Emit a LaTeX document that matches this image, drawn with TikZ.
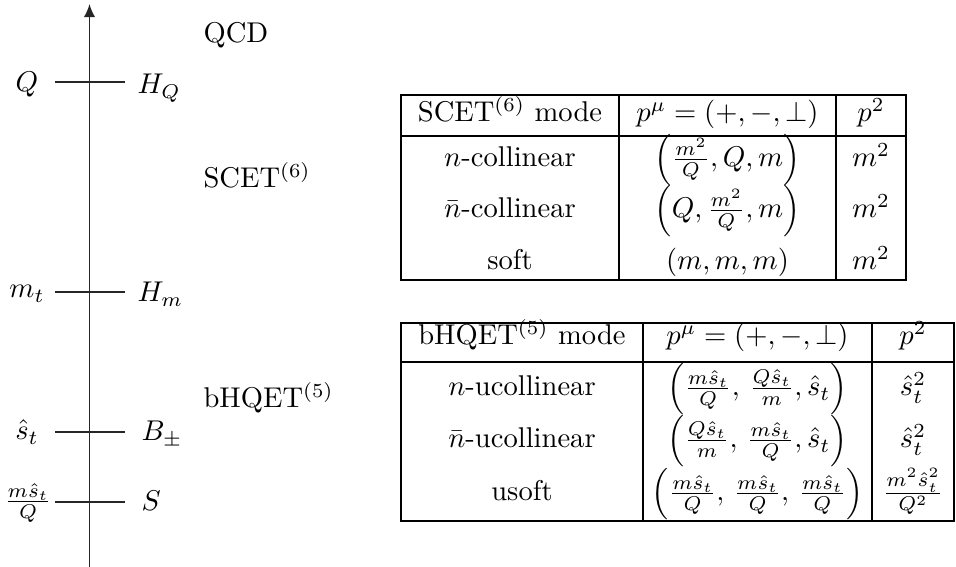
\documentclass[tikz,border=0pt]{standalone}
\usetikzlibrary{arrows.meta}
\begin{document}
\begin{tikzpicture}[x=0.35pt,y=-0.35pt,
  axisline/.style={line width=0.6pt, draw=black!85},
  tabline/.style={line width=0.7pt, draw=black},
  lbl/.style={anchor=base, inner sep=0pt},
  rlbl/.style={anchor=base west, inner sep=0pt},
  cell/.style={anchor=base, inner sep=0pt}]
\useasboundingbox (0,0) rectangle (956,567);

% ---------- scale axis ----------
\coordinate (axbot) at (89.5,567);
\coordinate (axtop) at (89.5,4);
\draw[axisline,-{Latex[length=4.6pt,width=4pt]}] (axbot) -- (axtop);

\coordinate (tQa) at (55,82);   \coordinate (tQb) at (125,82);
\coordinate (tMa) at (55,292);  \coordinate (tMb) at (125,292);
\coordinate (tSa) at (55,432);  \coordinate (tSb) at (125,432);
\coordinate (tUa) at (55,502);  \coordinate (tUb) at (125,502);
\draw[axisline] (tQa) -- (tQb);
\draw[axisline] (tMa) -- (tMb);
\draw[axisline] (tSa) -- (tSb);
\draw[axisline] (tUa) -- (tUb);

\node[lbl] (lQ) at (27,92) {$Q$};
\node[lbl] (lM) at (27,298) {$m_t$};
\node[lbl] (lS) at (27,440) {$\hat{s}_t$};
\node[lbl] (lU) at (28,509) {$\frac{m\hat{s}_t}{Q}$};

\node[rlbl] (rQ) at (137,94) {$H_Q$};
\node[rlbl] (rM) at (137,302) {$H_m$};
\node[rlbl] (rS) at (141,441) {$B_\pm$};
\node[rlbl] (rU) at (141,511) {$S$};

\node[rlbl] (qcd) at (203,43) {QCD};
\node[rlbl] (scet) at (203,188) {SCET$^{(6)}$};
\node[rlbl] (bhqet) at (203,408) {bHQET$^{(5)}$};

% ---------- table 1 ----------
\draw[tabline] (401,95) rectangle (906,280);
\draw[tabline] (401,136) -- (906,136);
\draw[tabline] (619,95) -- (619,280);
\draw[tabline] (836,95) -- (836,280);

\node[cell] (a00) at (510,122) {SCET$^{(6)}$ mode};
\node[cell] (a01) at (727.5,122) {$p^\mu=(+,-,\perp)$};
\node[cell] (a02) at (871,122) {$p^2$};
\node[cell] (a10) at (510,167) {$n$-collinear};
\node[cell] (a11) at (727.5,167) {$\left(\frac{m^2}{Q},Q,m\right)$};
\node[cell] (a12) at (871,167) {$m^2$};
\node[cell] (a20) at (510,218) {$\bar{n}$-collinear};
\node[cell] (a21) at (727.5,218) {$\left(Q,\frac{m^2}{Q},m\right)$};
\node[cell] (a22) at (871,218) {$m^2$};
\node[cell] (a30) at (510,270) {soft};
\node[cell] (a31) at (727.5,270) {$(m,m,m)$};
\node[cell] (a32) at (871,270) {$m^2$};

% ---------- table 2 ----------
\draw[tabline] (401,323) rectangle (954,521);
\draw[tabline] (401,362) -- (954,362);
\draw[tabline] (643,323) -- (643,521);
\draw[tabline] (872,323) -- (872,521);

\node[cell] (b00) at (522,345) {bHQET$^{(5)}$ mode};
\node[cell] (b01) at (757.5,345) {$p^\mu=(+,-,\perp)$};
\node[cell] (b02) at (913,345) {$p^2$};
\node[cell] (b10) at (522,396) {$n$-ucollinear};
\node[cell] (b11) at (757.5,396) {$\left(\frac{m\hat{s}_t}{Q},\,\frac{Q\hat{s}_t}{m},\hat{s}_t\right)$};
\node[cell] (b12) at (913,396) {$\hat{s}_t^2$};
\node[cell] (b20) at (522,448) {$\bar{n}$-ucollinear};
\node[cell] (b21) at (757.5,448) {$\left(\frac{Q\hat{s}_t}{m},\,\frac{m\hat{s}_t}{Q},\hat{s}_t\right)$};
\node[cell] (b22) at (913,448) {$\hat{s}_t^2$};
\node[cell] (b30) at (522,501) {usoft};
\node[cell] (b31) at (757.5,501) {$\left(\frac{m\hat{s}_t}{Q},\,\frac{m\hat{s}_t}{Q},\,\frac{m\hat{s}_t}{Q}\right)$};
\node[cell] (b32) at (913,501) {$\frac{m^2\hat{s}_t^2}{Q^2}$};
\end{tikzpicture}
\end{document}
